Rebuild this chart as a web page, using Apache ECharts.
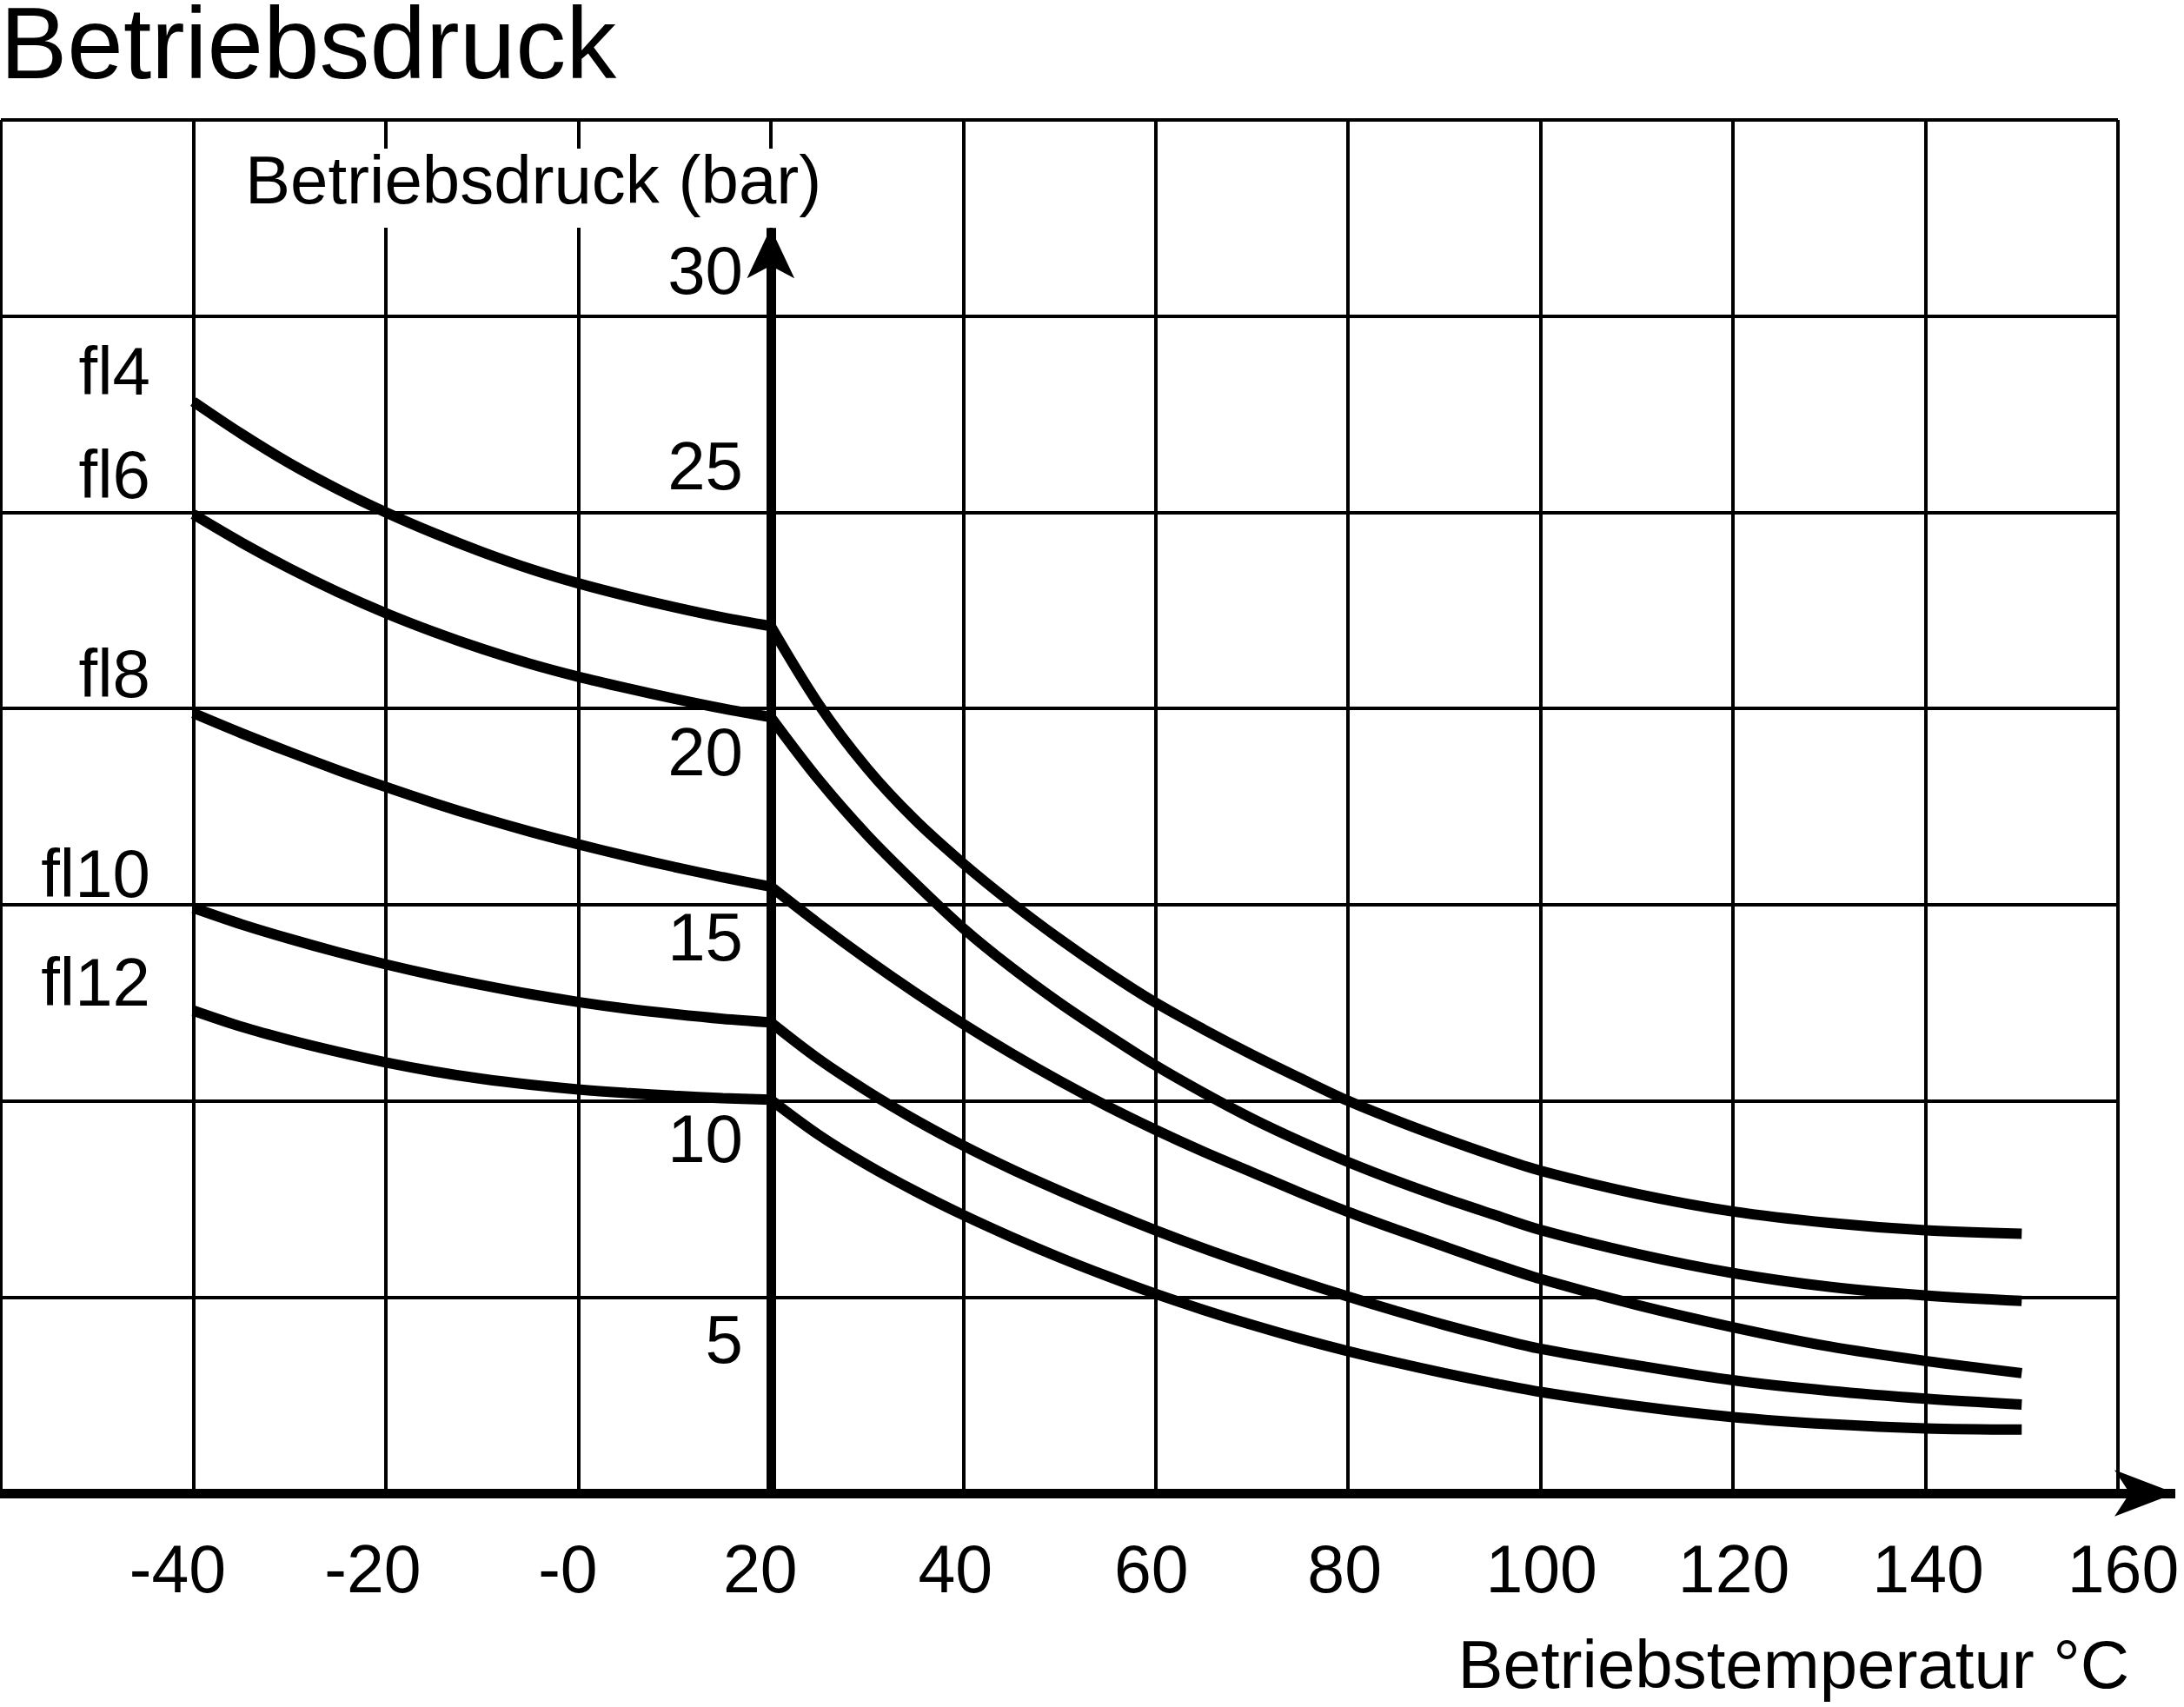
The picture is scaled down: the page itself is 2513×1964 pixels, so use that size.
<!DOCTYPE html>
<html>
<head>
<meta charset="utf-8">
<title>Betriebsdruck</title>
<script src="https://cdn.jsdelivr.net/npm/echarts@6/dist/echarts.min.js"></script>
<style>
  html, body { margin: 0; padding: 0; background: #fff; }
  #chart { width: 2513px; height: 1964px; }
</style>
</head>
<body>
<div id="chart"></div>
<script>
// Betriebstemperatur (°C) -> Betriebsdruck (bar).
// Each curve has a kink at 20 °C, so it is split into a left and a right part.
const tempsLeft = [-40, -35, -30, -25, -20, -15, -10, -5, 0, 5, 10, 15, 20];
const tempsRight = [20, 25, 30, 35, 40, 45, 50, 55, 60, 65, 70, 75, 80, 85, 90, 95, 100, 110, 120, 130, 140, 150];

const fl4Left = [27.82, 27.0, 26.25, 25.59, 25.0, 24.47, 23.99, 23.56, 23.19, 22.87, 22.58, 22.32, 22.1];
const fl4Right = [22.1, 20.1, 18.48, 17.16, 16.05, 15.05, 14.13, 13.28, 12.5, 11.82, 11.18, 10.58, 10.0,
                  9.5, 9.04, 8.61, 8.22, 7.63, 7.18, 6.89, 6.7, 6.61];

const fl6Left = [24.95, 24.23, 23.57, 22.97, 22.43, 21.95, 21.52, 21.14, 20.81, 20.52, 20.25, 20.0, 19.78];
const fl6Right = [19.78, 18.18, 16.78, 15.55, 14.4, 13.4, 12.5, 11.68, 10.9, 10.2, 9.55, 8.97, 8.44,
                  7.96, 7.52, 7.11, 6.71, 6.1, 5.61, 5.26, 5.04, 4.9];

const fl8Left = [19.88, 19.37, 18.89, 18.43, 18.0, 17.59, 17.21, 16.86, 16.54, 16.24, 15.96, 15.7, 15.46];
const fl8Right = [15.46, 14.51, 13.61, 12.76, 11.96, 11.21, 10.51, 9.86, 9.26, 8.7, 8.18, 7.66, 7.17,
                  6.72, 6.29, 5.86, 5.46, 4.8, 4.23, 3.74, 3.37, 3.06];

const fl10Left = [14.92, 14.5, 14.13, 13.79, 13.48, 13.2, 12.95, 12.72, 12.52, 12.35, 12.21, 12.09, 12.0];
const fl10Right = [12.0, 11.06, 10.25, 9.52, 8.86, 8.26, 7.71, 7.19, 6.7, 6.24, 5.81, 5.4, 5.01,
                   4.64, 4.29, 3.97, 3.68, 3.26, 2.88, 2.61, 2.41, 2.26];

const fl12Left = [12.3, 11.89, 11.55, 11.25, 10.98, 10.75, 10.56, 10.41, 10.29, 10.2, 10.13, 10.07, 10.03];
const fl12Right = [10.03, 9.13, 8.37, 7.7, 7.09, 6.53, 6.01, 5.53, 5.08, 4.67, 4.29, 3.94, 3.62,
                   3.33, 3.06, 2.81, 2.58, 2.22, 1.94, 1.76, 1.65, 1.62];

const curveNames = ['fl4', 'fl6', 'fl8', 'fl10', 'fl12'];

// tick labels as printed on the sheet
const xTicks = [-40, -20, 0, 20, 40, 60, 80, 100, 120, 140, 160];
const xTickLabels = ['-40', '-20', '-0', '20', '40', '60', '80', '100', '120', '140', '160'];
const yTicks = [5, 10, 15, 20, 25, 30];
const yTickLabels = ['5', '10', '15', '20', '25', '30'];

// axis arrows: pressure axis stands at 20 °C; both arrow tips run past the grid
const yAxisAt = 20;
const yArrowTip = 32.25;
const xArrowTip = 165.96;

document.addEventListener("DOMContentLoaded", function () {
    var font = 'Liberation Sans, Arial, Helvetica, sans-serif';
    var chart = echarts.init(document.getElementById('chart'), null, { renderer: 'canvas' });

    var leftData = [fl4Left, fl6Left, fl8Left, fl10Left, fl12Left];
    var rightData = [fl4Right, fl6Right, fl8Right, fl10Right, fl12Right];

    // the printed labels sit a little unevenly next to the grid lines
    var yLabelShift = { 5: 50, 10: 45, 15: 39, 20: 51, 25: -52, 30: -51 };
    var yRich = {};
    yTicks.forEach(function (v) {
        var s = yLabelShift[v];
        yRich['y' + v] = {
            fontSize: 78, fontFamily: font, color: '#000',
            padding: s > 0 ? [s * 2 + 8, 0, 0, 0] : [0, 0, -s * 2 - 8, 0]
        };
    });
    var xLabelShift = { '-40': -18, '-20': -15, '0': -12, '20': -12, '40': -9, '60': -5,
                        '80': -4, '100': 1, '120': 1, '140': 3, '160': 6 };
    var xRich = {};
    xTicks.forEach(function (v, k) {
        var s = xLabelShift[v];
        xRich['x' + k] = {
            fontSize: 77, lineHeight: 77, fontFamily: font, color: '#000',
            padding: s < 0 ? [0, -s * 2, 0, 0] : [0, 0, 0, s * 2]
        };
    });
    var labelNudge = { fl4: -30, fl6: -40, fl8: -40, fl10: -34, fl12: -27 };

    var lineStyle = { color: '#000', width: 12, cap: 'butt' };
    var series = [];

    curveNames.forEach(function (name, i) {
        series.push({
            type: 'line',
            name: name,
            smooth: 0.33,
            symbol: 'circle',
            symbolSize: 1,
            showSymbol: true,
            silent: true,
            lineStyle: lineStyle,
            itemStyle: { color: '#000' },
            label: {
                show: false, position: 'left', distance: 49, offset: [0, labelNudge[name]],
                formatter: name, fontSize: 78, fontFamily: font, color: '#000'
            },
            data: tempsLeft.map(function (t, k) {
                var d = { value: [t, leftData[i][k]] };
                if (k === 0) d.label = { show: true };
                return d;
            }),
            // thick pressure axis with its arrow
            markLine: i === 0 ? {
                silent: true,
                symbol: ['none', 'arrow'],
                symbolSize: [41, 58],
                label: { show: false },
                lineStyle: { color: '#000', width: 11, type: 'solid' },
                data: [[{ coord: [yAxisAt, 0] }, { coord: [yAxisAt, yArrowTip] }]]
            } : undefined
        });
        series.push({
            type: 'line',
            name: name,
            smooth: 0.33,
            showSymbol: false,
            silent: true,
            lineStyle: lineStyle,
            data: tempsRight.map(function (t, k) { return [t, rightData[i][k]]; })
        });
    });

    // temperature axis: same scale, on a grid that reaches to the arrow tip
    series.push({
        type: 'line',
        xAxisIndex: 1,
        yAxisIndex: 1,
        silent: true,
        showSymbol: false,
        lineStyle: { width: 0 },
        data: [[-60, 0]],
        markLine: {
            silent: true,
            symbol: ['none', 'arrow'],
            symbolSize: [40, 70],
            label: { show: false },
            lineStyle: { color: '#000', width: 11, type: 'solid' },
            data: [[{ coord: [-60, 0] }, { coord: [xArrowTip, 0] }]]
        }
    });

    var option = {
        animation: false,
        backgroundColor: '#fff',
        textStyle: { fontFamily: font, color: '#000' },
        title: [
            {
                text: 'Betriebsdruck', left: 0, top: 0, padding: 0,
                textStyle: { fontSize: 116, lineHeight: 116, fontWeight: 'normal', color: '#000', fontFamily: font }
            },
            {
                text: 'Betriebsdruck (bar)', left: 274, top: 171, padding: [2, 8, 11, 8],
                backgroundColor: '#fff', z: 10,
                textStyle: { fontSize: 78, lineHeight: 78, fontWeight: 'normal', color: '#000', fontFamily: font }
            },
            {
                text: 'Betriebstemperatur °C', right: 63, top: 1881, padding: 0,
                textStyle: { fontSize: 78, lineHeight: 78, fontWeight: 'normal', color: '#000', fontFamily: font }
            }
        ],
        grid: [
            { left: 1, right: 76, top: 138, bottom: 246, outerBoundsMode: 'none' },
            { left: 1, right: 10, top: 138, bottom: 246, outerBoundsMode: 'none' }
        ],
        xAxis: [
            {
                type: 'value', min: -60, max: 160, interval: 20,
                axisLine: { show: true, onZero: false, lineStyle: { color: '#000', width: 11 } },
                axisTick: { show: false },
                axisLabel: {
                    margin: 54, color: '#000', fontFamily: font, fontSize: 77,
                    formatter: function (v) {
                        var k = xTicks.indexOf(v);
                        return k < 0 ? '' : '{x' + k + '|' + xTickLabels[k] + '}';
                    },
                    rich: xRich
                },
                splitLine: { show: true, lineStyle: { color: '#000', width: 4 } }
            },
            { type: 'value', gridIndex: 1, min: -60, max: xArrowTip, show: false }
        ],
        yAxis: [
            {
                type: 'value', min: 0, max: 35, interval: 5,
                position: 'left', offset: -886,
                axisLine: { show: false, onZero: false },
                axisTick: { show: false },
                axisLabel: {
                    margin: 32, color: '#000', fontSize: 78, fontFamily: font,
                    formatter: function (v) {
                        var k = yTicks.indexOf(v);
                        return k < 0 ? '' : '{y' + v + '|' + yTickLabels[k] + '}';
                    },
                    rich: yRich
                },
                splitLine: { show: true, lineStyle: { color: '#000', width: 4 } }
            },
            { type: 'value', gridIndex: 1, min: 0, max: 35, show: false }
        ],
        series: series
    };

    chart.setOption(option);
});
</script>
</body>
</html>
